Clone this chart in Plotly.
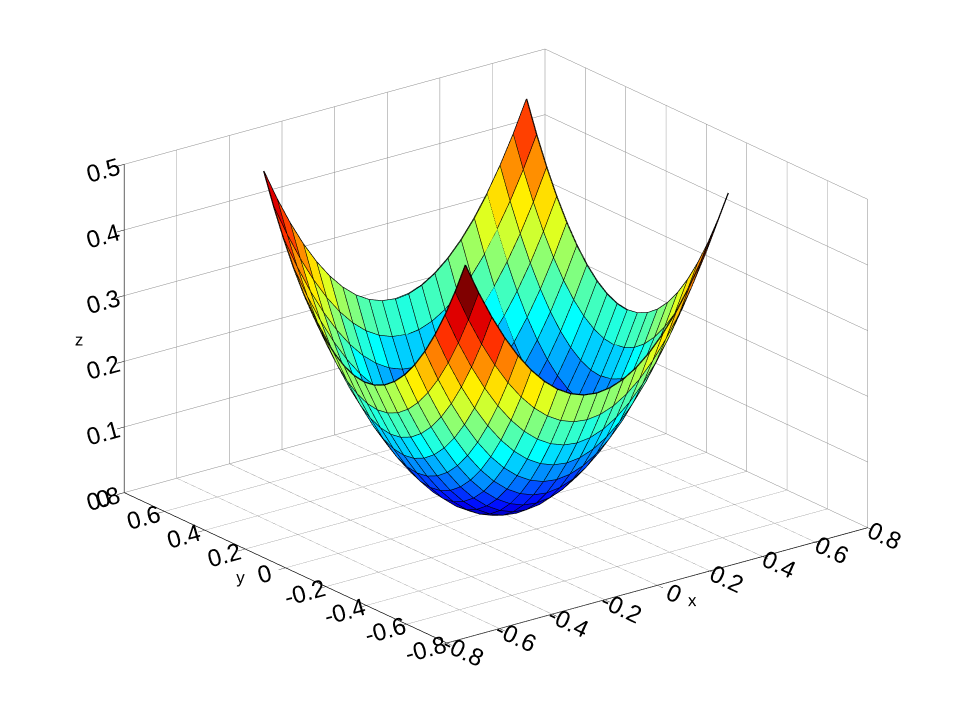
import plotly.graph_objects as go

# grid of the surface (x = columns, y = rows)
x_vals = [-0.5, -0.45, -0.4, -0.35, -0.3, -0.25, -0.2, -0.15, -0.1, -0.05, 0.0,
          0.05, 0.1, 0.15, 0.2, 0.25, 0.3, 0.35, 0.4, 0.45, 0.5]
y_vals = [-0.5, -0.45, -0.4, -0.35, -0.3, -0.25, -0.2, -0.15, -0.1, -0.05, 0.0,
          0.05, 0.1, 0.15, 0.2, 0.25, 0.3, 0.35, 0.4, 0.45, 0.5]

# surface heights, z_vals[row][col]
z_vals = [
    [0.5, 0.4525, 0.41, 0.3725, 0.34, 0.3125, 0.29, 0.2725, 0.26, 0.2525, 0.25, 0.2525, 0.26, 0.2725, 0.29, 0.3125, 0.34, 0.3725, 0.41, 0.4525, 0.5],
    [0.4525, 0.405, 0.3625, 0.325, 0.2925, 0.265, 0.2425, 0.225, 0.2125, 0.205, 0.2025, 0.205, 0.2125, 0.225, 0.2425, 0.265, 0.2925, 0.325, 0.3625, 0.405, 0.4525],
    [0.41, 0.3625, 0.32, 0.2825, 0.25, 0.2225, 0.2, 0.1825, 0.17, 0.1625, 0.16, 0.1625, 0.17, 0.1825, 0.2, 0.2225, 0.25, 0.2825, 0.32, 0.3625, 0.41],
    [0.3725, 0.325, 0.2825, 0.245, 0.2125, 0.185, 0.1625, 0.145, 0.1325, 0.125, 0.1225, 0.125, 0.1325, 0.145, 0.1625, 0.185, 0.2125, 0.245, 0.2825, 0.325, 0.3725],
    [0.34, 0.2925, 0.25, 0.2125, 0.18, 0.1525, 0.13, 0.1125, 0.1, 0.0925, 0.09, 0.0925, 0.1, 0.1125, 0.13, 0.1525, 0.18, 0.2125, 0.25, 0.2925, 0.34],
    [0.3125, 0.265, 0.2225, 0.185, 0.1525, 0.125, 0.1025, 0.085, 0.0725, 0.065, 0.0625, 0.065, 0.0725, 0.085, 0.1025, 0.125, 0.1525, 0.185, 0.2225, 0.265, 0.3125],
    [0.29, 0.2425, 0.2, 0.1625, 0.13, 0.1025, 0.08, 0.0625, 0.05, 0.0425, 0.04, 0.0425, 0.05, 0.0625, 0.08, 0.1025, 0.13, 0.1625, 0.2, 0.2425, 0.29],
    [0.2725, 0.225, 0.1825, 0.145, 0.1125, 0.085, 0.0625, 0.045, 0.0325, 0.025, 0.0225, 0.025, 0.0325, 0.045, 0.0625, 0.085, 0.1125, 0.145, 0.1825, 0.225, 0.2725],
    [0.26, 0.2125, 0.17, 0.1325, 0.1, 0.0725, 0.05, 0.0325, 0.02, 0.0125, 0.01, 0.0125, 0.02, 0.0325, 0.05, 0.0725, 0.1, 0.1325, 0.17, 0.2125, 0.26],
    [0.2525, 0.205, 0.1625, 0.125, 0.0925, 0.065, 0.0425, 0.025, 0.0125, 0.005, 0.0025, 0.005, 0.0125, 0.025, 0.0425, 0.065, 0.0925, 0.125, 0.1625, 0.205, 0.2525],
    [0.25, 0.2025, 0.16, 0.1225, 0.09, 0.0625, 0.04, 0.0225, 0.01, 0.0025, 0.0, 0.0025, 0.01, 0.0225, 0.04, 0.0625, 0.09, 0.1225, 0.16, 0.2025, 0.25],
    [0.2525, 0.205, 0.1625, 0.125, 0.0925, 0.065, 0.0425, 0.025, 0.0125, 0.005, 0.0025, 0.005, 0.0125, 0.025, 0.0425, 0.065, 0.0925, 0.125, 0.1625, 0.205, 0.2525],
    [0.26, 0.2125, 0.17, 0.1325, 0.1, 0.0725, 0.05, 0.0325, 0.02, 0.0125, 0.01, 0.0125, 0.02, 0.0325, 0.05, 0.0725, 0.1, 0.1325, 0.17, 0.2125, 0.26],
    [0.2725, 0.225, 0.1825, 0.145, 0.1125, 0.085, 0.0625, 0.045, 0.0325, 0.025, 0.0225, 0.025, 0.0325, 0.045, 0.0625, 0.085, 0.1125, 0.145, 0.1825, 0.225, 0.2725],
    [0.29, 0.2425, 0.2, 0.1625, 0.13, 0.1025, 0.08, 0.0625, 0.05, 0.0425, 0.04, 0.0425, 0.05, 0.0625, 0.08, 0.1025, 0.13, 0.1625, 0.2, 0.2425, 0.29],
    [0.3125, 0.265, 0.2225, 0.185, 0.1525, 0.125, 0.1025, 0.085, 0.0725, 0.065, 0.0625, 0.065, 0.0725, 0.085, 0.1025, 0.125, 0.1525, 0.185, 0.2225, 0.265, 0.3125],
    [0.34, 0.2925, 0.25, 0.2125, 0.18, 0.1525, 0.13, 0.1125, 0.1, 0.0925, 0.09, 0.0925, 0.1, 0.1125, 0.13, 0.1525, 0.18, 0.2125, 0.25, 0.2925, 0.34],
    [0.3725, 0.325, 0.2825, 0.245, 0.2125, 0.185, 0.1625, 0.145, 0.1325, 0.125, 0.1225, 0.125, 0.1325, 0.145, 0.1625, 0.185, 0.2125, 0.245, 0.2825, 0.325, 0.3725],
    [0.41, 0.3625, 0.32, 0.2825, 0.25, 0.2225, 0.2, 0.1825, 0.17, 0.1625, 0.16, 0.1625, 0.17, 0.1825, 0.2, 0.2225, 0.25, 0.2825, 0.32, 0.3625, 0.41],
    [0.4525, 0.405, 0.3625, 0.325, 0.2925, 0.265, 0.2425, 0.225, 0.2125, 0.205, 0.2025, 0.205, 0.2125, 0.225, 0.2425, 0.265, 0.2925, 0.325, 0.3625, 0.405, 0.4525],
    [0.5, 0.4525, 0.41, 0.3725, 0.34, 0.3125, 0.29, 0.2725, 0.26, 0.2525, 0.25, 0.2525, 0.26, 0.2725, 0.29, 0.3125, 0.34, 0.3725, 0.41, 0.4525, 0.5],
]

xy_ticks = [-0.8, -0.6, -0.4, -0.2, 0, 0.2, 0.4, 0.6, 0.8]
xy_ticktext = ["-0.8", "-0.6", "-0.4", "-0.2", "0", "0.2", "0.4", "0.6", "0.8"]
z_ticks = [0, 0.1, 0.2, 0.3, 0.4, 0.5]
z_ticktext = ["0", "0.1", "0.2", "0.3", "0.4", "0.5"]

C_MIN, C_MAX = 0.0, 0.5
FONT = "Liberation Sans, Arial, sans-serif"


def jet64(k):
    # matlab jet(64), k = 1..64
    n = 16
    u = [i / n for i in range(1, n + 1)] + [1.0] * (n - 1) + [i / n for i in range(n, 0, -1)]

    def pick(idx):
        return u[idx - 1] if 1 <= idx <= len(u) else 0.0

    r = pick(k - 24)
    g = pick(k - 8)
    b = pick(k + 8)
    return "rgb(%d,%d,%d)" % (round(r * 255), round(g * 255), round(b * 255))


def face_color(c):
    k = int((c - C_MIN) / (C_MAX - C_MIN) * 64) + 1
    return jet64(max(1, min(64, k)))


nx, ny = len(x_vals), len(y_vals)
vx, vy, vz = [], [], []
for i in range(ny):
    for j in range(nx):
        vx.append(x_vals[j])
        vy.append(y_vals[i])
        vz.append(z_vals[i][j])

ti, tj, tk, colors = [], [], [], []
for i in range(ny - 1):
    for j in range(nx - 1):
        a = i * nx + j
        b = a + 1
        c = a + nx
        d = c + 1
        col = face_color(z_vals[i][j])  # flat shading: colour of first corner
        ti += [a, a]
        tj += [b, d]
        tk += [d, c]
        colors += [col, col]

fig = go.Figure()
fig.add_trace(go.Mesh3d(
    x=vx, y=vy, z=vz, i=ti, j=tj, k=tk,
    facecolor=colors, flatshading=True,
    lighting=dict(ambient=1, diffuse=0, specular=0, roughness=1, fresnel=0),
    hoverinfo="skip", showscale=False
))

# black edges of the mesh
lx, ly, lz = [], [], []
for i in range(ny):
    lx += x_vals + [None]
    ly += [y_vals[i]] * nx + [None]
    lz += z_vals[i] + [None]
for j in range(nx):
    lx += [x_vals[j]] * ny + [None]
    ly += y_vals + [None]
    lz += [z_vals[i][j] for i in range(ny)] + [None]
fig.add_trace(go.Scatter3d(
    x=lx, y=ly, z=lz, mode="lines",
    line=dict(color="black", width=2.5),
    hoverinfo="skip", showlegend=False
))

axis_style = dict(
    showbackground=False, showgrid=True, gridcolor="#8a8a8a", gridwidth=1,
    showline=True, linecolor="black", linewidth=1.5,
    ticks="outside", ticklen=9, tickcolor="black",
    zeroline=False, showspikes=False,
    tickfont=dict(family=FONT, size=17, color="black"),
)
title_font = dict(family=FONT, size=17, color="black")

fig.update_layout(
    width=958, height=719,
    paper_bgcolor="white",
    margin=dict(l=0, r=0, t=0, b=0),
    showlegend=False,
    scene=dict(
        domain=dict(x=[0.0275, 0.9925], y=[0.06, 1.0]),
        xaxis=dict(range=[-0.8, 0.8], tickvals=xy_ticks, ticktext=xy_ticktext,
                   title=dict(text="x", font=title_font), **axis_style),
        yaxis=dict(range=[-0.8, 0.8], tickvals=xy_ticks, ticktext=xy_ticktext,
                   title=dict(text="y", font=title_font), **axis_style),
        zaxis=dict(range=[0, 0.5], tickvals=z_ticks, ticktext=z_ticktext,
                   title=dict(text="z", font=title_font), **axis_style),
        aspectmode="manual", aspectratio=dict(x=1.569, y=1.569, z=1.04),
        camera=dict(
            projection=dict(type="orthographic"),
            eye=dict(x=-0.773, y=-1.008, z=0.486),
            center=dict(x=0, y=0, z=0),
            up=dict(x=0, y=0, z=1),
        ),
    ),
)

fig.write_html("out.html")
